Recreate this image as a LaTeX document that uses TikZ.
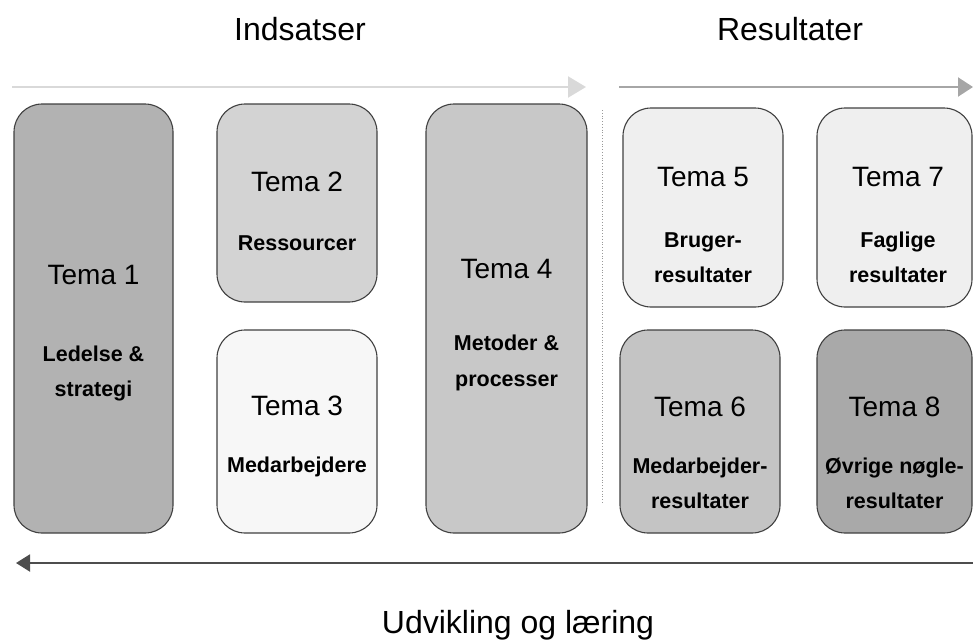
\documentclass[tikz,border=0pt]{standalone}
\usepackage{fontspec}
\setmainfont{Liberation Sans}
\usetikzlibrary{arrows.meta}
\definecolor{edge}{HTML}{404040}
\definecolor{fillA}{HTML}{B2B2B2}
\definecolor{fillB}{HTML}{D3D3D3}
\definecolor{fillC}{HTML}{F7F7F7}
\definecolor{fillD}{HTML}{C8C8C8}
\definecolor{fillE}{HTML}{EFEFEF}
\definecolor{fillF}{HTML}{C4C4C4}
\definecolor{fillG}{HTML}{A9A9A9}
\definecolor{arrowlight}{HTML}{D9D9D9}
\definecolor{arrowmid}{HTML}{A6A6A6}
\definecolor{arrowdark}{HTML}{4D4D4D}
\definecolor{sepline}{HTML}{999999}
\begin{document}
\begin{tikzpicture}[x=1pt,y=-1pt,
  themebox/.style={draw=edge, line width=1.1pt, rounded corners=28pt,
    inner sep=0pt, outer sep=0pt},
  headtext/.style={anchor=base, inner sep=0pt, font=\fontsize{32}{32}\selectfont},
  tematext/.style={anchor=base, inner sep=0pt, font=\fontsize{28}{28}\selectfont},
  subtext/.style={anchor=base, inner sep=0pt, font=\fontsize{21.5}{21.5}\selectfont\bfseries},
  flow/.style={line width=2pt},
]
\useasboundingbox (0,0) rectangle (973,640);

% section headings
\node[headtext] (hin) at (300,40) {Indsatser};
\node[headtext] (hres) at (790,40) {Resultater};
\node[headtext] (hudv) at (518,633) {Udvikling og læring};

% flow arrows
\coordinate (a1s) at (12,87);
\coordinate (a1e) at (586,87);
\coordinate (a2s) at (619,87);
\coordinate (a2e) at (973,87);
\coordinate (a3s) at (973,563);
\coordinate (a3e) at (16,563);
\draw[flow, arrowlight, -{Triangle[length=18pt,width=21pt]}] (a1s) -- (a1e);
\draw[flow, arrowmid, -{Triangle[length=15pt,width=19pt]}] (a2s) -- (a2e);
\draw[flow, arrowdark, -{Triangle[length=14pt,width=17pt]}] (a3s) -- (a3e);

% separator between inputs and results
\coordinate (sept) at (602,110);
\coordinate (sepb) at (602,503);
\draw[sepline, line width=0.8pt, dotted] (sept) -- (sepb);

% theme boxes
\node[themebox, fill=fillA, minimum width=159pt, minimum height=429pt] (b1) at (93.5,318.5) {};
\node[themebox, fill=fillB, minimum width=160pt, minimum height=198pt] (b2) at (297,203) {};
\node[themebox, fill=fillC, minimum width=160pt, minimum height=203pt] (b3) at (297,431.5) {};
\node[themebox, fill=fillD, minimum width=161pt, minimum height=429pt] (b4) at (506.5,318.5) {};
\node[themebox, fill=fillE, minimum width=160pt, minimum height=199pt] (b5) at (703,207.5) {};
\node[themebox, fill=fillE, minimum width=155pt, minimum height=199pt] (b7) at (894.5,207.5) {};
\node[themebox, fill=fillF, minimum width=160pt, minimum height=203pt] (b6) at (700,431.5) {};
\node[themebox, fill=fillG, minimum width=155pt, minimum height=203pt] (b8) at (894.5,431.5) {};

% labels
\node[tematext] (t1) at (93.5,284) {Tema 1};
\node[subtext] (t1a) at (93.5,361) {Ledelse \&};
\node[subtext] (t1b) at (93.5,396) {strategi};

\node[tematext] (t2) at (297,191) {Tema 2};
\node[subtext] (t2a) at (297,250) {Ressourcer};

\node[tematext] (t3) at (297,415) {Tema 3};
\node[subtext] (t3a) at (297,472) {Medarbejdere};

\node[tematext] (t4) at (506.5,278) {Tema 4};
\node[subtext] (t4a) at (506.5,350) {Metoder \&};
\node[subtext] (t4b) at (506.5,386) {processer};

\node[tematext] (t5) at (703,186) {Tema 5};
\node[subtext] (t5a) at (703,247) {Bruger-};
\node[subtext] (t5b) at (703,282) {resultater};

\node[tematext] (t7) at (898,186) {Tema 7};
\node[subtext] (t7a) at (898,247) {Faglige};
\node[subtext] (t7b) at (898,282) {resultater};

\node[tematext] (t6) at (700,416) {Tema 6};
\node[subtext] (t6a) at (700,473) {Medarbejder-};
\node[subtext] (t6b) at (700,508) {resultater};

\node[tematext] (t8) at (894.5,416) {Tema 8};
\node[subtext] (t8a) at (894.5,473) {Øvrige nøgle-};
\node[subtext] (t8b) at (894.5,508) {resultater};
\end{tikzpicture}
\end{document}
